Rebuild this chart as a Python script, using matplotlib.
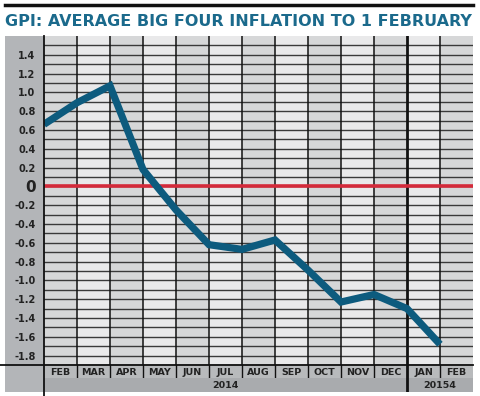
import matplotlib
matplotlib.use('Agg')
import matplotlib.pyplot as plt
from matplotlib.patches import Rectangle

months = ['FEB', 'MAR', 'APR', 'MAY', 'JUN', 'JUL', 'AUG', 'SEP', 'OCT',
          'NOV', 'DEC', 'JAN', 'FEB']
inflation = [0.66, 0.89, 1.07, 0.18, -0.25, -0.62, -0.67, -0.57, -0.89,
             -1.23, -1.15, -1.30, -1.68]
years = ['2014', '20154']
year_spans = [(0, 11), (11, 13)]
ytick_vals = [1.4, 1.2, 1.0, 0.8, 0.6, 0.4, 0.2, 0, -0.2, -0.4, -0.6,
              -0.8, -1.0, -1.2, -1.4, -1.6, -1.8]
ytick_labels = ['1.4', '1.2', '1.0', '0.8', '0.6', '0.4', '0.2', '0',
                '-0.2', '-0.4', '-0.6', '-0.8', '-1.0', '-1.2', '-1.4',
                '-1.6', '-1.8']
title = 'GPI: AVERAGE BIG FOUR INFLATION TO 1 FEBRUARY'

W, H = 480, 396
fig = plt.figure(figsize=(W / 100, H / 100), dpi=100)
fig.patch.set_facecolor('white')


def box(x0, y0, x1, y1):
    # pixel box (top-left origin) -> figure rect
    return [x0 / W, 1 - y1 / H, (x1 - x0) / W, (y1 - y0) / H]


def fig_rect(x0, y0, x1, y1, color, z=0):
    b = box(x0, y0, x1, y1)
    fig.add_artist(Rectangle((b[0], b[1]), b[2], b[3], transform=fig.transFigure,
                             facecolor=color, edgecolor='none', zorder=z))


def fig_line(xs, ys, lw, color='#111111'):
    fig.add_artist(plt.Line2D([x / W for x in xs], [1 - y / H for y in ys],
                              transform=fig.transFigure, color=color, lw=lw, zorder=5))


# left label panel and bottom bands
fig_rect(5, 36, 44, 392, '#b3b5b8')
fig_rect(44, 365, 473, 378, '#b8babc')
fig_rect(44, 378, 473, 392, '#a9abae')

# top rule and title
fig_line([5, 473], [5, 5], 2.5)
t = fig.text(5 / W, 1 - 21 / H, title, ha='left', va='center', fontsize=14,
             color='#1b6a8c', family=['Liberation Sans Narrow', 'DejaVu Sans'],
             fontweight='bold')
# fit title to the 5..472 px width
r = fig.canvas.get_renderer()
tw = t.get_window_extent(r).width
t.set_fontsize(min(16, 14 * 467 / tw))

ax = fig.add_axes(box(44, 36, 473, 365))
ax.set_xlim(0, 13)
ax.set_ylim(-1.9, 1.6)

for i in range(13):
    ax.axvspan(i, i + 1, color='#d6d7d8' if i % 2 == 0 else '#e9e9ea', lw=0, zorder=0)

for k in range(-19, 16):
    ax.axhline(k / 10, color='#3a3a3a', lw=1.0, zorder=1)
for i in range(1, 13):
    ax.axvline(i, color='#111111', lw=2.0 if i == 11 else 1.1, zorder=2)

ax.axhline(0, color='#d42a3a', lw=2.6, zorder=3)
ax.plot(range(len(inflation)), inflation, color='#0d5b7e', lw=5.2,
        solid_joinstyle='miter', solid_capstyle='butt', zorder=4)

ax.set_xticks([])
ax.set_yticks(ytick_vals)
ax.set_yticklabels(ytick_labels)
ax.tick_params(axis='y', length=0, pad=6)
for lab in ax.get_yticklabels():
    lab.set_fontweight('bold')
    lab.set_color('#222222')
    lab.set_fontsize(11 if lab.get_text() == '0' else 7)
for s in ax.spines.values():
    s.set_visible(False)

# month band
mx = fig.add_axes(box(44, 365, 473, 378))
mx.set_xlim(0, 13)
mx.set_ylim(0, 1)
mx.axis('off')
for i, m in enumerate(months):
    mx.text(i + 0.5, 0.45, m, ha='center', va='center', fontsize=6.8,
            fontweight='bold', color='#222222')
for i in range(1, 13):
    mx.axvline(i, color='#111111', lw=2.0 if i == 11 else 1.0)

yx = fig.add_axes(box(44, 378, 473, 392))
yx.set_xlim(0, 13)
yx.set_ylim(0, 1)
yx.axis('off')
for lab, (a, b) in zip(years, year_spans):
    yx.text((a + b) / 2, 0.5, lab, ha='center', va='center', fontsize=6.8,
            fontweight='bold', color='#222222')
yx.axvline(11, color='#111111', lw=2.0)

# frame lines
fig_line([0, 473], [365, 365], 1.3)
fig_line([44, 44], [36, 396], 1.3)

fig.savefig('out.png', dpi=100)
